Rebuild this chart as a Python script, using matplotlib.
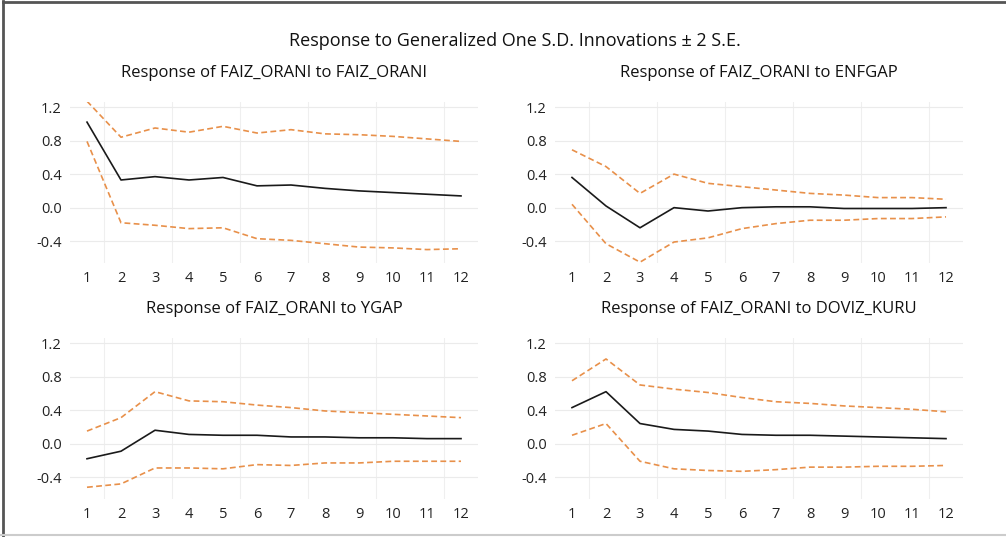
import matplotlib
matplotlib.use("Agg")
import matplotlib.pyplot as plt
from matplotlib.lines import Line2D

plt.rcParams['font.family'] = ['Open Sans', 'DejaVu Sans']

periods = list(range(1, 13))

titles = [
    "Response of FAIZ_ORANI to FAIZ_ORANI",
    "Response of FAIZ_ORANI to ENFGAP",
    "Response of FAIZ_ORANI to YGAP",
    "Response of FAIZ_ORANI to DOVIZ_KURU",
]

# impulse responses
faiz_resp = [1.02, 0.33, 0.37, 0.33, 0.36, 0.26, 0.27, 0.23, 0.20, 0.18, 0.16, 0.14]
faiz_up = [1.27, 0.84, 0.95, 0.90, 0.97, 0.89, 0.93, 0.88, 0.87, 0.85, 0.82, 0.79]
faiz_lo = [0.79, -0.18, -0.21, -0.25, -0.24, -0.37, -0.39, -0.43, -0.47, -0.48, -0.50, -0.49]

enf_resp = [0.36, 0.02, -0.24, 0.00, -0.04, 0.00, 0.01, 0.01, -0.01, -0.01, -0.01, 0.00]
enf_up = [0.69, 0.49, 0.17, 0.40, 0.29, 0.25, 0.21, 0.17, 0.15, 0.12, 0.12, 0.10]
enf_lo = [0.04, -0.43, -0.65, -0.41, -0.36, -0.25, -0.19, -0.15, -0.15, -0.13, -0.13, -0.11]

ygap_resp = [-0.18, -0.09, 0.16, 0.11, 0.10, 0.10, 0.08, 0.08, 0.07, 0.07, 0.06, 0.06]
ygap_up = [0.15, 0.31, 0.62, 0.51, 0.50, 0.46, 0.43, 0.39, 0.37, 0.35, 0.33, 0.31]
ygap_lo = [-0.52, -0.48, -0.29, -0.29, -0.30, -0.25, -0.26, -0.23, -0.23, -0.21, -0.21, -0.21]

doviz_resp = [0.43, 0.62, 0.24, 0.17, 0.15, 0.11, 0.10, 0.10, 0.09, 0.08, 0.07, 0.06]
doviz_up = [0.75, 1.01, 0.70, 0.65, 0.61, 0.55, 0.50, 0.48, 0.45, 0.43, 0.41, 0.38]
doviz_lo = [0.10, 0.24, -0.21, -0.30, -0.32, -0.33, -0.31, -0.28, -0.28, -0.27, -0.27, -0.26]

series = [
    (faiz_resp, faiz_up, faiz_lo),
    (enf_resp, enf_up, enf_lo),
    (ygap_resp, ygap_up, ygap_lo),
    (doviz_resp, doviz_up, doviz_lo),
]

W, H = 1006, 537
fig = plt.figure(figsize=(W / 100, H / 100), dpi=100)

# panel boxes in pixels: left, top, right, bottom
boxes = [
    (70, 102, 478, 263),
    (555, 102, 963, 263),
    (70, 338, 478, 499),
    (555, 338, 963, 499),
]
title_y = [73, 73, 309, 309]

orange = "#E8904A"
for i, (l, t, r, b) in enumerate(boxes):
    ax = fig.add_axes([l / W, 1 - b / H, (r - l) / W, (b - t) / H])
    resp, up, lo = series[i]
    ax.plot(periods, up, color=orange, lw=1.2, ls=(0, (3.5, 2)))
    ax.plot(periods, lo, color=orange, lw=1.2, ls=(0, (3.5, 2)))
    ax.plot(periods, resp, color="#1a1a1a", lw=1.2)
    ax.set_xlim(0.5, 12.5)
    ax.set_ylim(-0.66, 1.26)
    ax.set_yticks([-0.4, 0.0, 0.4, 0.8, 1.2])
    ax.set_yticklabels(["-0.4", "0.0", "0.4", "0.8", "1.2"])
    ax.set_xticks(periods)
    ax.set_xticks([1.5, 3.5, 5.5, 7.5, 9.5, 11.5], minor=True)
    ax.grid(False)
    ax.grid(True, which="minor", axis="x", color="#efefef", lw=0.8)
    ax.grid(True, which="major", axis="y", color="#ebebeb", lw=0.8)
    ax.tick_params(which="both", length=0, labelsize=10.5, colors="#222222")
    ax.tick_params(axis="x", pad=6)
    ax.tick_params(axis="y", pad=6)
    for s in ax.spines.values():
        s.set_visible(False)
    ax.set_axisbelow(True)
    fig.text((l + r) / 2 / W, 1 - title_y[i] / H, titles[i], ha="center",
             va="center", fontsize=12, color="#111111")

fig.text(515 / W, 1 - 41 / H, "Response to Generalized One S.D. Innovations \u00b1 2 S.E.",
         ha="center", va="center", fontsize=13, color="#111111")

# frame lines of the screenshot
fig.add_artist(Line2D([3 / W, 3 / W], [0, 1 - 1 / H], transform=fig.transFigure,
                      color="#555555", lw=2))
fig.add_artist(Line2D([3 / W, 1], [1 - 2 / H, 1 - 2 / H], transform=fig.transFigure,
                      color="#555555", lw=2))
fig.add_artist(Line2D([0, 1], [2 / H, 2 / H], transform=fig.transFigure,
                      color="#cccccc", lw=1.5))

fig.savefig("out.png", dpi=100)
